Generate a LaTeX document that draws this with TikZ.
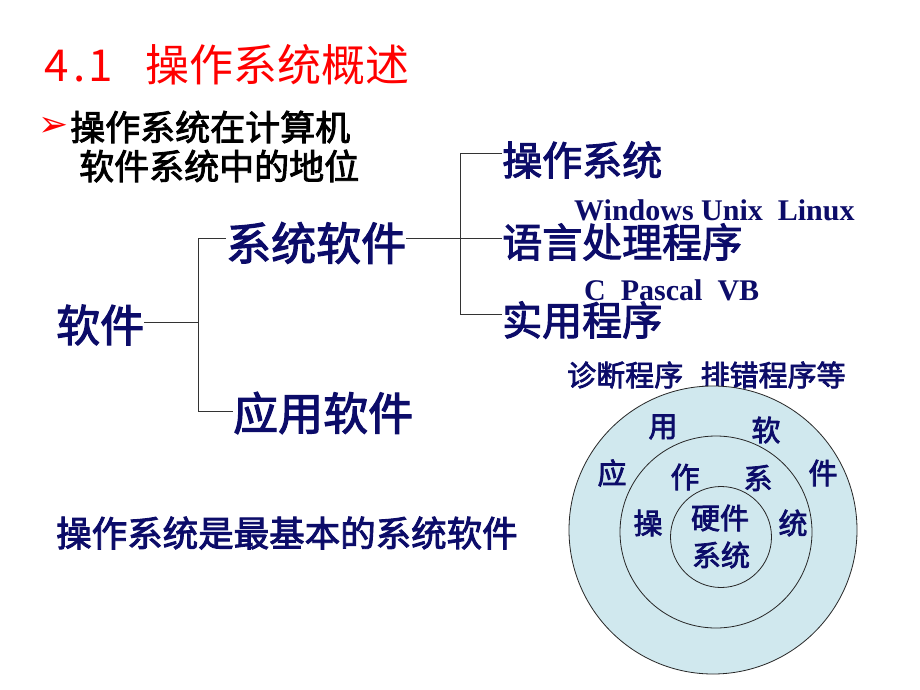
\documentclass[tikz,border=0pt]{standalone}
\usepackage{fontspec}
\setmainfont{Noto Sans CJK SC}
\newfontfamily\cjkm[FakeBold=2.5]{Noto Sans CJK SC}
\newfontfamily\latinserif{Liberation Serif}
\newfontfamily\dejavu{DejaVu Sans}
\definecolor{navy}{RGB}{12,12,105}
\definecolor{titlered}{RGB}{255,0,0}
\definecolor{ringfill}{RGB}{208,232,238}
\newcommand{\hw}[1]{\makebox[0.5em][c]{#1}}
\begin{document}
\begin{tikzpicture}[x=1pt,y=-1pt,
  txt/.style={inner sep=0pt,anchor=west,font=\cjkm},
  navytxt/.style={txt,text=navy},
  conn/.style={draw=black!80,line width=0.9pt},
  ring/.style={draw=black!85,line width=0.8pt,fill=ringfill},
  ringlab/.style={inner sep=0pt,text=navy,font=\cjkm\fontsize{29}{31}\selectfont}]
\useasboundingbox (0,0) rectangle (920,690);
\fill[white] (0,0) rectangle (920,690);
% title
\node[inner sep=0pt,anchor=west,text=titlered,font=\fontsize{44}{48}\selectfont] (title) at (46,65) {\hw{4}\hw{.}\hw{1}\hspace{0.75em}操作系统概述};
% bullet
\node[inner sep=0pt,text=titlered,font=\dejavu\fontsize{36}{38}\selectfont] (bul) at (54,127) {➢};
\node[txt,text=black,font=\cjkm\fontsize{35}{38}\selectfont] (b1) at (70,127) {操作系统在计算机};
\node[txt,text=black,font=\cjkm\fontsize{35}{38}\selectfont] (b2) at (79,166) {软件系统中的地位};
% tree
\node[navytxt,font=\cjkm\fontsize{44}{48}\selectfont] (soft) at (56,325) {软件};
\node[navytxt,font=\cjkm\fontsize{45}{48}\selectfont] (sys) at (226,243) {系统软件};
\node[navytxt,font=\cjkm\fontsize{45}{48}\selectfont] (app) at (233,413) {应用软件};
\node[navytxt,font=\cjkm\fontsize{40}{44}\selectfont] (os) at (502,160) {操作系统};
\node[navytxt,font=\cjkm\fontsize{40}{44}\selectfont] (lang) at (502,242) {语言处理程序};
\node[navytxt,font=\cjkm\fontsize{40}{44}\selectfont] (util) at (502,320) {实用程序};
\node[inner sep=0pt,anchor=base west,text=navy,font=\latinserif\bfseries\fontsize{30}{32}\selectfont] (win) at (574,220) {Windows Unix\ \ Linux};
\node[inner sep=0pt,anchor=base west,text=navy,font=\latinserif\bfseries\fontsize{30}{32}\selectfont] (pas) at (584,300) {C\ \ Pascal\ \ VB};
\node[navytxt,font=\cjkm\fontsize{29}{32}\selectfont] (diag) at (567,375) {诊断程序\hspace{0.6em}排错程序等};
% connectors
\coordinate (jm) at (198,322);
\coordinate (ja) at (198,238);
\coordinate (jb) at (198,411);
\coordinate (km) at (460,238);
\coordinate (ka) at (460,153);
\coordinate (kb) at (460,314);
\draw[conn] (soft.east |- jm) -- (jm);
\draw[conn] (ja) -- (jb);
\draw[conn] (ja) -- (sys.west |- ja);
\draw[conn] (jb) -- (app.west |- jb);
\draw[conn] (sys.east |- km) -- (km);
\draw[conn] (ka) -- (kb);
\draw[conn] (ka) -- (os.west |- ka);
\draw[conn] (km) -- (lang.west |- km);
\draw[conn] (kb) -- (util.west |- kb);
% rings
\node[ring,circle,minimum size=288pt,inner sep=0pt] (outer) at (713,530) {};
\node[ring,circle,minimum size=192pt,inner sep=0pt] (mid) at (716,532) {};
\node[ring,circle,minimum size=101pt,inner sep=0pt] (inner) at (721,537) {};
\node[ringlab] (l1) at (663,427) {用};
\node[ringlab] (l2) at (766,430) {软};
\node[ringlab] (l3) at (612,473) {应};
\node[ringlab] (l4) at (685,477) {作};
\node[ringlab] (l5) at (758,478) {系};
\node[ringlab] (l6) at (823,473) {件};
\node[ringlab] (l7) at (648,523) {操};
\node[ringlab] (l8) at (793,523) {统};
\node[ringlab] (l9) at (720,518) {硬件};
\node[ringlab] (l10) at (721,555) {系统};
% bottom line
\node[navytxt,font=\cjkm\fontsize{35.5}{38}\selectfont] (basic) at (56,533) {操作系统是最基本的系统软件};
\end{tikzpicture}
\end{document}
